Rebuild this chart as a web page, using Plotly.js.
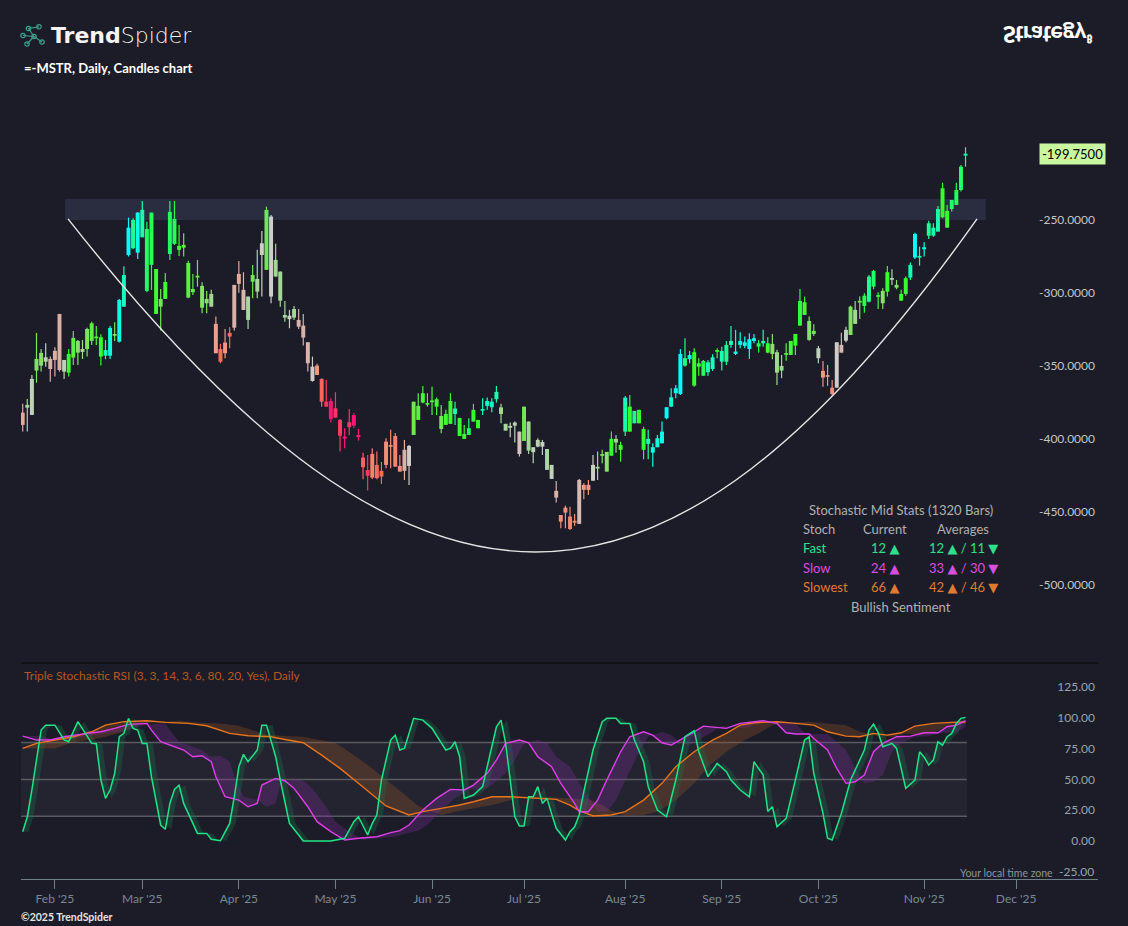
<!DOCTYPE html>
<html><head><meta charset="utf-8">
<script src="https://cdn.plot.ly/plotly-3.0.1.min.js"></script>
<style>
html,body{margin:0;padding:0;background:#1c1c29;overflow:hidden}
#wrap{position:relative;width:1128px;height:926px}
#chart{position:absolute;left:0;top:0;width:1128px;height:926px}
#logoIcon{position:absolute;left:17px;top:22px}
#strategy{position:absolute;left:1003px;top:21px;color:#fff;font-family:Lato,'DejaVu Sans',sans-serif;font-weight:900;font-size:23px;line-height:27px;transform:scaleY(-1);white-space:nowrap;letter-spacing:-0.4px}
#strategy sup{font-size:11px;font-family:'Noto Sans','DejaVu Sans',sans-serif;font-weight:700}
</style></head>
<body><div id="wrap"><div id="chart"></div>
<svg id="logoIcon" width="32" height="28" viewBox="0 0 32 28">
 <g stroke="#3c9e8b" stroke-width="1.2" fill="none">
  <line x1="17" y1="14.5" x2="6" y2="13.5"/><line x1="17" y1="14.5" x2="11.5" y2="6.5"/>
  <line x1="17" y1="14.5" x2="10" y2="22"/><line x1="17" y1="14.5" x2="25" y2="20"/>
  <line x1="11.5" y1="6.5" x2="22" y2="4.8"/>
  <circle cx="6" cy="13.5" r="2.2"/><circle cx="11.5" cy="6.5" r="2.2"/><circle cx="22" cy="4.8" r="2.2"/>
  <circle cx="17" cy="14.5" r="2.2"/><circle cx="25" cy="20" r="2.2"/><circle cx="10" cy="22" r="2.2"/>
 </g>
</svg>
<div id="strategy">Strategy<sup>₿</sup></div></div>
<script>
// ---------------- DATA ----------------
const open = [-382.0,-378.6,-383.6,-353.2,-349.8,-347.1,-345.2,-339.7,-314.4,-353.9,
-354.6,-344.3,-340.9,-340.4,-338.4,-332.9,-331.0,-343.6,-343.0,-343.0,
-329.1,-333.4,-309.4,-274.0,-269.4,-272.4,-261.9,-298.6,-280.8,-314.4,
-309.4,-304.1,-273.3,-266.4,-270.5,-269.0,-303.2,-299.5,-289.2,-310.1,
-307.1,-309.4,-321.2,-338.4,-334.0,-327.4,-294.5,-287.0,-297.9,-318.5,
-292.3,-299.1,-274.0,-284.2,-302.5,-288.8,-305.3,-316.9,-318.0,-316.9,
-318.5,-322.4,-333.8,-360.3,-349.8,-358.9,-374.5,-374.0,-379.0,-387.0,
-398.4,-388.6,-383.6,-397.3,-412.8,-421.3,-410.3,-417.8,-421.9,-401.9,
-404.3,-398.0,-418.5,-407.5,-418.5,-397.3,-387.0,-375.1,-376.4,-374.7,
-377.9,-393.2,-390.4,-389.7,-382.9,-398.0,-400.0,-397.3,-388.1,-392.7,
-380.5,-377.4,-378.3,-372.8,-382.9,-394.3,-392.3,-390.9,-410.3,-401.4,
-408.0,-409.1,-405.3,-405.3,-421.2,-427.4,-435.6,-452.1,-447.1,-453.2,
-456.2,-428.1,-431.5,-431.5,-428.6,-420.2,-411.5,-422.4,-411.5,-402.5,
-407.5,-395.0,-395.0,-389.3,-389.3,-407.5,-403.4,-409.4,-405.7,-403.0,
-385.8,-377.9,-368.7,-369.2,-349.8,-345.4,-363.5,-350.5,-356.7,-354.3,
-352.1,-340.0,-347.1,-347.1,-335.6,-341.8,-335.6,-336.3,-338.4,-332.9,
-336.8,-334.5,-340.9,-341.8,-354.6,-353.2,-342.3,-342.5,-336.1,-322.4,
-315.1,-332.2,-328.1,-344.7,-353.4,-356.4,-364.9,-364.9,-335.6,-332.7,
-328.8,-321.2,-306.4,-308.9,-306.0,-295.7,-302.5,-307.1,-299.1,-290.8,
-296.4,-305.3,-300.7,-289.5,-275.8,-275.8,-270.1,-260.8,-260.8,-258.0,
-248.2,-255.3,-242.5,-239.7,-229.5,-205.8];
const high = [-376.0,-372.6,-356.2,-327.4,-338.4,-334.5,-343.6,-337.2,-314.4,-345.9,
-338.4,-326.0,-332.2,-332.2,-323.8,-319.7,-322.6,-328.3,-332.2,-322.6,
-320.1,-304.1,-281.7,-248.4,-248.8,-244.5,-237.0,-251.2,-245.0,-283.6,
-297.3,-286.3,-237.0,-237.0,-253.4,-259.1,-277.9,-287.0,-277.4,-292.7,
-298.6,-297.9,-316.2,-334.9,-324.7,-323.5,-294.5,-278.1,-285.8,-302.5,
-280.8,-270.5,-257.5,-240.9,-246.6,-266.4,-285.4,-305.5,-311.6,-308.9,
-311.0,-314.4,-333.8,-343.6,-348.6,-358.4,-359.6,-372.1,-368.0,-386.3,
-392.7,-379.5,-382.4,-393.2,-409.4,-411.0,-406.4,-408.7,-415.8,-399.5,
-393.8,-396.0,-411.0,-400.7,-404.1,-374.5,-368.7,-363.7,-368.7,-364.2,
-371.7,-376.7,-380.1,-368.7,-374.5,-385.6,-390.4,-385.8,-376.0,-387.0,
-372.1,-371.7,-372.1,-363.7,-376.0,-389.7,-388.8,-388.1,-395.0,-377.9,
-388.1,-405.7,-399.5,-400.7,-406.9,-417.8,-428.8,-452.1,-445.7,-446.4,
-451.4,-427.4,-430.4,-428.1,-411.0,-408.7,-407.5,-408.9,-395.0,-397.3,
-401.9,-370.6,-370.0,-380.8,-380.1,-391.6,-393.8,-403.0,-397.3,-388.1,
-378.3,-365.3,-363.0,-338.4,-331.0,-339.7,-337.9,-344.7,-345.9,-345.9,
-342.0,-337.9,-336.8,-332.9,-322.6,-325.3,-326.9,-329.9,-327.6,-328.1,
-332.2,-325.3,-330.4,-328.1,-339.0,-342.5,-334.5,-332.9,-328.1,-297.3,
-302.5,-316.2,-321.4,-336.3,-346.6,-349.3,-359.6,-333.8,-327.2,-323.1,
-308.7,-305.5,-302.5,-300.2,-287.7,-284.2,-299.5,-296.8,-281.5,-283.8,
-291.1,-297.9,-288.8,-279.2,-258.7,-268.3,-265.3,-250.5,-252.3,-240.4,
-224.5,-239.7,-236.3,-224.5,-212.3,-200.2];
const low = [-395.0,-395.0,-383.6,-361.5,-353.9,-350.5,-360.8,-357.3,-353.9,-358.9,
-357.3,-349.3,-349.3,-345.2,-343.6,-335.6,-335.6,-349.8,-345.4,-345.2,
-332.9,-334.0,-309.4,-275.1,-270.1,-276.7,-261.9,-299.5,-297.9,-314.4,
-325.8,-304.1,-277.4,-267.1,-274.7,-275.1,-303.6,-301.4,-295.7,-313.9,
-313.9,-309.4,-341.3,-348.2,-344.7,-337.9,-325.8,-299.8,-311.7,-324.7,
-303.6,-303.6,-302.5,-284.2,-307.1,-288.8,-309.4,-319.7,-324.2,-318.5,
-324.7,-336.1,-353.9,-360.8,-356.2,-377.9,-377.9,-388.8,-385.4,-408.7,
-406.4,-397.3,-392.7,-401.2,-427.6,-435.4,-427.4,-427.6,-430.8,-420.1,
-420.1,-419.0,-422.4,-428.1,-431.5,-397.3,-387.0,-375.6,-377.9,-383.6,
-383.6,-396.1,-390.4,-389.7,-390.4,-398.0,-400.0,-397.3,-388.1,-392.7,
-383.6,-380.1,-381.7,-375.1,-389.3,-394.3,-398.8,-402.5,-412.1,-401.4,
-410.3,-416.7,-405.7,-411.0,-421.2,-427.4,-443.6,-461.2,-461.2,-462.4,
-459.4,-458.2,-441.3,-438.4,-428.6,-428.1,-416.7,-422.4,-411.5,-409.4,
-415.6,-398.0,-395.0,-389.3,-389.3,-413.9,-413.9,-419.0,-405.7,-403.0,
-386.5,-377.9,-372.1,-369.9,-350.5,-348.2,-364.2,-356.7,-356.7,-356.7,
-353.4,-344.7,-353.2,-349.3,-337.5,-342.5,-337.9,-337.9,-345.2,-334.5,
-340.9,-336.8,-341.3,-345.4,-363.0,-358.4,-346.4,-342.5,-342.5,-322.4,
-315.1,-332.7,-329.5,-348.2,-364.2,-363.7,-370.3,-364.9,-340.9,-333.8,
-328.8,-321.2,-317.8,-313.5,-306.6,-297.5,-311.0,-311.0,-302.5,-294.5,
-297.5,-305.3,-301.9,-291.1,-276.7,-281.3,-275.1,-263.0,-261.5,-258.0,
-248.8,-255.3,-244.3,-239.7,-230.6,-213.5];
const close = [-390.4,-376.7,-358.9,-345.2,-341.1,-344.1,-352.1,-345.9,-352.8,-345.9,
-341.8,-330.8,-332.9,-338.4,-324.7,-320.8,-329.9,-330.4,-339.1,-324.0,
-328.4,-304.8,-287.7,-255.3,-250.0,-245.0,-243.1,-256.2,-245.0,-283.6,
-304.1,-292.5,-244.5,-249.3,-267.8,-267.1,-279.5,-297.3,-288.5,-295.2,
-304.1,-300.7,-341.3,-347.1,-341.3,-329.9,-323.8,-293.8,-311.7,-302.5,
-287.7,-290.4,-266.0,-243.2,-247.7,-277.4,-285.4,-315.1,-315.6,-311.0,
-323.1,-330.6,-348.2,-350.5,-356.2,-374.5,-377.9,-386.5,-385.4,-397.8,
-399.8,-392.0,-390.9,-398.8,-419.4,-425.2,-426.5,-426.9,-425.8,-417.8,
-405.3,-419.0,-422.4,-421.9,-404.8,-374.5,-377.4,-368.7,-375.6,-373.8,
-372.8,-384.3,-382.9,-374.0,-379.2,-385.6,-396.6,-392.7,-380.1,-387.0,
-379.7,-374.0,-374.5,-367.8,-378.4,-389.7,-391.1,-388.8,-395.0,-377.9,
-388.1,-405.7,-400.7,-402.1,-406.9,-417.8,-440.2,-456.7,-450.5,-461.7,
-457.2,-458.2,-434.9,-434.9,-417.8,-419.2,-410.5,-408.9,-400.0,-400.0,
-404.1,-371.7,-377.9,-380.8,-380.1,-393.2,-400.0,-405.7,-399.5,-395.0,
-378.3,-371.5,-365.3,-341.8,-344.7,-342.5,-340.6,-348.2,-346.6,-347.5,
-344.1,-339.5,-339.7,-335.6,-332.9,-340.2,-332.9,-333.8,-331.7,-331.0,
-334.5,-332.9,-334.5,-334.9,-340.6,-350.0,-341.3,-332.9,-328.1,-305.5,
-306.4,-319.2,-326.0,-337.9,-358.0,-357.4,-369.2,-333.8,-340.9,-325.3,
-309.4,-311.6,-305.6,-301.9,-288.8,-284.9,-301.7,-298.6,-285.8,-290.0,
-294.5,-300.7,-289.9,-280.8,-259.6,-274.7,-268.7,-252.3,-255.3,-242.5,
-228.3,-243.8,-236.3,-229.5,-213.5,-204.8];
// candle colour score (-1 = hot pink ... 0 = grey ... +1 = cyan)
const trend = [-0.25,0.33,0.2,0.45,0.43,0.22,-0.2,-0.2,-0.22,0.2,
0.62,0.55,0.43,0.33,0.45,0.55,0.58,0.63,0.85,0.92,
0.45,0.93,0.85,1.0,0.78,0.95,0.82,0.7,0.68,0.6,
0.5,0.6,0.7,0.7,0.62,0.55,0.55,0.55,0.55,0.43,
0.43,0.33,-0.35,-0.6,-0.4,-0.6,-0.2,-0.25,-0.15,0.3,
0.5,0.3,0.05,0.5,0.05,0.33,0.33,0.3,0.1,0.33,
-0.2,-0.2,-0.15,0.05,-0.4,-0.62,-0.85,-1.0,-0.85,-0.8,
-1.0,-0.85,-1.0,-1.0,-0.65,-0.85,-0.5,-0.6,-0.6,-0.45,
-0.45,-0.5,-0.45,-0.2,0.05,0.5,0.55,0.6,0.58,0.58,
0.6,0.5,0.6,0.62,0.82,0.62,0.62,0.72,0.62,0.62,
0.82,0.88,0.86,0.82,0.33,0.3,0.2,0.22,-0.05,0.5,
0.33,0.2,0.22,0.18,0.3,0.18,-0.2,-0.45,-0.45,-0.5,
-0.45,-0.12,-0.4,-0.4,0.1,0.33,0.45,0.4,0.62,0.35,
0.6,0.82,0.62,0.78,0.62,0.62,0.82,0.93,0.9,0.95,
1.0,0.88,0.95,1.0,0.75,0.93,0.62,0.6,0.7,0.82,
0.85,0.62,0.82,0.78,0.82,0.93,0.93,0.95,1.0,0.93,
0.7,0.82,0.6,0.43,0.33,0.35,0.55,0.6,0.62,0.65,
0.6,0.43,0.5,0.2,-0.4,-0.4,-0.45,0.05,-0.15,0.2,
0.45,0.33,0.5,0.68,0.78,0.7,0.6,0.43,0.62,0.25,
0.43,0.62,0.62,0.82,1.0,0.82,0.93,0.78,0.82,0.82,
0.62,0.62,0.72,0.7,0.72,0.82];

// Triple Stochastic RSI lines (bar index, value)
const fastIdx = [0,1,2,4,5,7,9,10,12,14,15,16,17,18,19,20,21,22,23,24,25,26,27,28,30,31,32,33,34,35,37,38,40,41,43,45,46,47,48,49,51,52,53,54,55,56,57,58,60,61,67,70,72,73,75,76,77,78,80,81,82,83,85,87,89,92,93,94,95,96,98,100,102,103,104,105,107,108,109,110,111,112,113,114,115,116,118,119,120,121,122,124,126,127,129,130,132,133,135,136,138,140,142,144,146,147,149,150,151,153,154,156,158,159,161,162,163,164,166,168,170,171,172,174,175,176,178,180,181,183,184,185,186,187,188,189,190,192,194,195,196,197,198,199,200,201,202,203,204,205];
const fastVal = [7.6,19.7,41.4,90,94,94,82,80.5,96.8,84.6,79.2,79,49.5,34.6,41.4,54.9,84.6,87.3,99.5,91.4,90,79.2,79.2,52,13,9.5,30.5,41.9,45.4,30.5,14.3,6.2,6.2,1.4,0.3,14.3,35.9,60.3,70.3,64.3,73.8,94,94,82,68.4,49.5,33.2,14.3,4.9,0,0,2.2,15.7,19.7,4.9,14.3,21.1,49.5,81.9,85.9,73.8,75.1,99.5,98.1,91.4,73.8,75.1,80.5,68.4,34.6,37.3,44.1,76.5,92.7,98.1,79.2,19.7,12.2,12.2,35.9,35.9,44.1,30.5,34.6,22,10.3,0.8,7.6,11.6,21.1,40,73.8,96.8,99.5,99.5,95.4,95.4,81.9,64.3,44.1,25.1,19.7,49.5,84.6,89.5,72.4,52.2,57.6,63,56.2,49.5,41.4,35.9,64.3,53.5,24,27.8,11.6,18.4,49.5,81.9,84.6,54.9,22.4,2.2,0.8,22.4,49.5,57.6,73.8,90,94.9,88,76.5,77.8,79.2,75.1,42.7,49.5,72.4,68,61.6,65.7,80.5,77.8,84.6,87.3,95.4,99.5,100.3];
const slowIdx = [0,3,6,9,14,17,20,23,27,28,30,32,35,37,39,41,42,44,47,49,51,52,55,57,59,62,64,67,70,73,77,80,82,84,87,90,93,96,98,101,103,105,108,110,112,115,117,120,121,123,125,127,130,132,135,137,139,141,143,146,148,151,153,156,159,161,164,166,168,171,172,175,177,179,181,183,185,187,190,193,196,199,201,203,205];
const slowVal = [85.1,81.9,81.9,84.6,87.3,88.6,91.4,94.6,95.4,90,80.5,77.8,73.8,68.4,69.2,64.3,52.2,35.9,33.2,27.8,30.5,45.4,50.8,48.9,42.7,27.8,15.7,7.6,0.8,2.2,3.5,6.8,8.4,13,25.1,34.6,41.9,41.4,45.4,54.9,65.7,79.2,81.9,79.7,68.4,60.3,46.8,30.5,23.8,23.8,33.2,49.5,72.4,84.6,88.6,85.9,79.7,77.8,81.9,88.6,93.2,92.2,91.4,95.4,96.8,97.6,95.4,87.8,86.8,86.8,83.2,73.8,58.9,46.8,48.1,53.5,72.4,79.2,84.6,85.1,87.8,87.8,92.7,94,97.6];
const slowestIdx = [0,3,7,11,15,18,22,27,31,36,40,45,49,54,57,61,65,69,73,77,79,84,87,91,95,98,102,106,111,116,119,121,124,128,131,135,139,142,146,150,153,156,159,164,168,172,175,179,182,185,188,191,194,198,202,205];
const slowestVal = [75.1,79.2,81.9,84.6,88.6,94,96.8,97.6,96.2,95.4,93.5,87.3,85.4,84.6,82.4,79.7,69.7,58.9,46.8,34.6,28.4,21.1,23.8,26.5,29.2,31.9,35.9,35.9,34.6,33.8,29.2,24.6,20.3,21.1,23.8,33.2,46.8,60.3,72.4,81.9,87.3,94,95.9,96.8,95.4,94,88.6,85.1,84.6,87.3,85.9,87.8,93.2,95.4,96.2,96.5];

// trading calendar
const calendarStart = '2025-01-23', calendarEnd = '2025-12-01';
const holidays = ['2025-02-17','2025-04-18','2025-05-26','2025-06-19','2025-07-04','2025-09-01'];
const monthNames = ['Jan','Feb','Mar','Apr','May','Jun','Jul','Aug','Sep','Oct','Nov','Dec'];

// axis tick labels
const priceTicks = [-250,-300,-350,-400,-450,-500];
const priceTickText = ['-250.0000','-300.0000','-350.0000','-400.0000','-450.0000','-500.0000'];
const stochTicks = [125,100,75,50,25,0];
const stochTickText = ['125.00','100.00','75.00','50.00','25.00','0.00'];
const stochEdgeTick = -25, stochEdgeText = '-25.00';
const bandLevels = [80,50,20];

// drawings on the price pane
const zoneX = [9.2, 209.4], zoneY = [-235.6, -250.0];
const cupX = [9.85, 85.9, 139.0, 207.5], cupY = [-249.3, -553.5, -553.5, -249.3];

// stats table
const lastPriceText = '-199.7500';
const statsTitle = 'Stochastic Mid Stats (1320 Bars)';
const statsHeader = ['Stoch','Current','Averages'];
const statsNames = ['Fast','Slow','Slowest'];
const statsCurrent = ['12 ▲','24 ▲','66 ▲'];
const statsAverages = ['12 ▲ / 11 ▼','33 ▲ / 30 ▼','42 ▲ / 46 ▼'];
const statsSentiment = 'Bullish Sentiment';

// ---------------- BUILD ----------------
const BG = '#1c1c29';
const FONT = 'Lato, "DejaVu Sans", sans-serif';
const N = close.length;
const idx = close.map((_, i) => i);

function buildCalendar() {
  const out = [];
  let d = new Date(calendarStart + 'T00:00:00Z');
  const end = new Date(calendarEnd + 'T00:00:00Z');
  while (d <= end) {
    const w = d.getUTCDay(); const s = d.toISOString().slice(0, 10);
    if (w !== 0 && w !== 6 && !holidays.includes(s)) out.push(s);
    d = new Date(d.getTime() + 86400000);
  }
  return out;
}
const cal = buildCalendar();
const dates = cal.slice(0, N);
const tickvals = [], ticktext = [];
for (let i = 1; i < cal.length; i++) {
  if (cal[i].slice(5, 7) !== cal[i - 1].slice(5, 7)) {
    tickvals.push(i);
    ticktext.push(monthNames[+cal[i].slice(5, 7) - 1] + " '" + cal[i].slice(2, 4));
  }
}

const colorscale = [
  [0.0, '#ff1575'], [0.1, '#ff3d62'], [0.2, '#ff6b5a'], [0.3, '#ef9a80'], [0.4, '#d9b1a7'],
  [0.525, '#d0ccca'], [0.6, '#bdd2b8'], [0.665, '#a2d892'], [0.725, '#7fe35e'], [0.775, '#5cef44'],
  [0.81, '#38fd2e'], [0.85, '#22ff5e'], [0.9, '#1cffa4'], [0.95, '#10ffd6'], [1.0, '#00ffff']];
const candleMarker = { color: trend, colorscale: colorscale, cmin: -1, cmax: 1, line: { width: 0 } };

const minBody = 1.2;
const bodyBase = [], bodyH = [];
for (let i = 0; i < N; i++) {
  const lo = Math.min(open[i], close[i]), h = Math.abs(open[i] - close[i]);
  if (h < minBody) { bodyBase.push((open[i] + close[i]) / 2 - minBody / 2); bodyH.push(minBody); }
  else { bodyBase.push(lo); bodyH.push(h); }
}
const wickH = high.map((h, i) => h - low[i]);

const traces = [];
traces.push({ type: 'bar', x: idx, y: wickH, base: low, width: 0.26, marker: candleMarker, hovertext: dates, xaxis: 'x', yaxis: 'y' });
traces.push({ type: 'bar', x: idx, y: bodyH, base: bodyBase, width: 0.86, marker: candleMarker, hovertext: dates, xaxis: 'x', yaxis: 'y' });

const lastIdx = N - 1;
function ribbon(xs, ys, lag, color) {
  const sx = xs.map(x => Math.min(x + lag, lastIdx));
  return { type: 'scatter', mode: 'lines', x: xs.concat(sx.slice().reverse()), y: ys.concat(ys.slice().reverse()),
    fill: 'toself', fillcolor: color, line: { width: 0 }, xaxis: 'x', yaxis: 'y2', hoverinfo: 'skip' };
}
traces.push(ribbon(slowestIdx, slowestVal, 7, 'rgba(160,85,35,0.30)'));
traces.push(ribbon(slowIdx, slowVal, 4, 'rgba(130,45,160,0.30)'));
traces.push(ribbon(fastIdx, fastVal, 1.3, 'rgba(25,115,75,0.32)'));
traces.push({ type: 'scatter', mode: 'lines', x: slowestIdx, y: slowestVal, line: { color: '#e8741c', width: 1.4 }, xaxis: 'x', yaxis: 'y2' });
traces.push({ type: 'scatter', mode: 'lines', x: slowIdx, y: slowVal, line: { color: '#df3fe8', width: 1.4 }, xaxis: 'x', yaxis: 'y2' });
traces.push({ type: 'scatter', mode: 'lines', x: fastIdx, y: fastVal, line: { color: '#1fe387', width: 1.5 }, xaxis: 'x', yaxis: 'y2' });

// pixel helpers (plot area: x 21..1098, y 0..879)
const PL = 21, PW = 1077, PH = 879;
const px = x => (x - PL) / PW, py = y => 1 - y / PH;
const xRange = [-0.37, 233.8];
const split = py(663);

const shapes = [];
shapes.push({ type: 'rect', xref: 'x', yref: 'y', x0: zoneX[0], x1: zoneX[1], y0: zoneY[0], y1: zoneY[1], fillcolor: '#2a2c40', line: { width: 0 }, layer: 'below' });
shapes.push({ type: 'path', xref: 'x', yref: 'y',
  path: `M ${cupX[0]},${cupY[0]} C ${cupX[1]},${cupY[1]} ${cupX[2]},${cupY[2]} ${cupX[3]},${cupY[3]}`,
  line: { color: '#e6e6e6', width: 1.4 } });
shapes.push({ type: 'rect', xref: 'x', yref: 'y2', x0: xRange[0], x1: lastIdx + 0.3, y0: bandLevels[2], y1: bandLevels[0], fillcolor: '#242431', line: { width: 0 }, layer: 'below' });
bandLevels.forEach(v => shapes.push({ type: 'line', xref: 'x', yref: 'y2', x0: xRange[0], x1: lastIdx + 0.3, y0: v, y1: v, line: { color: '#5a5a62', width: 1.5 }, layer: 'below' }));
shapes.push({ type: 'line', xref: 'paper', yref: 'paper', x0: 0, x1: 1, y0: split, y1: split, line: { color: '#111117', width: 2 } });

const annotations = [];
function ann(text, x, y, o) {
  annotations.push(Object.assign({ text: text, xref: 'paper', yref: 'paper', x: px(x), y: py(y), showarrow: false,
    xanchor: 'left', yanchor: 'middle', font: { family: FONT, size: 13, color: '#b0b0b0' } }, o || {}));
}
ann('<b>Trend</b>Spider', 49, 35.5, { font: { family: '"DejaVu Sans", sans-serif', size: 22, color: '#f4f4f4', weight: 300 } });
ann('=-MSTR, Daily, Candles chart', 22, 68, { font: { family: FONT, size: 13, color: '#ffffff', weight: 700 } });
ann('Triple Stochastic RSI (3, 3, 14, 3, 6, 80, 20, Yes), Daily', 22, 675, { font: { family: FONT, size: 12, color: '#b5591f' } });
ann('©2025 TrendSpider', 19, 917, { font: { family: FONT, size: 10.5, color: '#e4e4e4', weight: 700 } });
ann('Your local time zone', 1055, 873, { xanchor: 'right', font: { family: FONT, size: 10.5, color: '#8c959c' } });

const rowY = [548, 567.5, 587], rowCol = ['#2fe08a', '#d84fe0', '#e07b32'];
ann(statsTitle, 900.5, 509.5, { xanchor: 'center' });
ann(statsHeader[0], 801, 529);
ann(statsHeader[1], 885, 529, { xanchor: 'center' });
ann(statsHeader[2], 963, 529, { xanchor: 'center' });
statsNames.forEach((n, i) => {
  const f = { family: FONT, size: 13, color: rowCol[i] };
  ann(n, 801, rowY[i], { font: f });
  ann(statsCurrent[i], 885, rowY[i], { xanchor: 'center', font: f });
  ann(statsAverages[i], 963, rowY[i], { xanchor: 'center', font: f });
});
ann(statsSentiment, 900.5, 606.5, { xanchor: 'center' });

// edge tick label of the stochastic axis
annotations.push({ text: stochEdgeText, xref: 'paper', yref: 'y2', x: px(1096), y: stochEdgeTick, xanchor: 'right', yanchor: 'middle',
  showarrow: false, font: { family: FONT, size: 12, color: '#9aa2a8' } });

// last price tag
annotations.push({ text: lastPriceText, xref: 'paper', yref: 'y', x: px(1106), y: close[lastIdx], xanchor: 'right', yanchor: 'middle',
  showarrow: false, bgcolor: '#c9f79f', borderpad: 2, font: { family: FONT, size: 13, color: '#000000' } });

const layout = {
  width: 1128, height: 926, margin: { l: PL, r: 1128 - PL - PW, t: 0, b: 926 - PH },
  paper_bgcolor: BG, plot_bgcolor: BG, showlegend: false, barmode: 'overlay',
  font: { family: FONT },
  xaxis: { range: xRange, anchor: 'y2', showgrid: false, zeroline: false, showline: true, linecolor: '#6f7f8a', linewidth: 1,
    ticks: 'outside', ticklen: 9, tickcolor: '#6f7f8a', tickwidth: 1, tickmode: 'array', tickvals: tickvals, ticktext: ticktext,
    tickfont: { family: FONT, size: 12, color: '#7a8893' } },
  yaxis: { domain: [split, py(90)], range: [-553.5, -161], side: 'right', ticklabelposition: 'inside', showgrid: false, zeroline: false,
    showline: false, ticks: '', tickmode: 'array', tickvals: priceTicks, ticktext: priceTickText,
    tickfont: { family: FONT, size: 12, color: '#c4c4c4' } },
  yaxis2: { domain: [0, split], range: [-30.8, 144.4], side: 'right', ticklabelposition: 'inside', showgrid: false, zeroline: false,
    showline: false, ticks: '', tickmode: 'array', tickvals: stochTicks, ticktext: stochTickText,
    tickfont: { family: FONT, size: 12, color: '#9aa2a8' } },
  shapes: shapes, annotations: annotations
};
Plotly.newPlot('chart', traces, layout, { displayModeBar: false, staticPlot: true });
</script>
</body></html>
